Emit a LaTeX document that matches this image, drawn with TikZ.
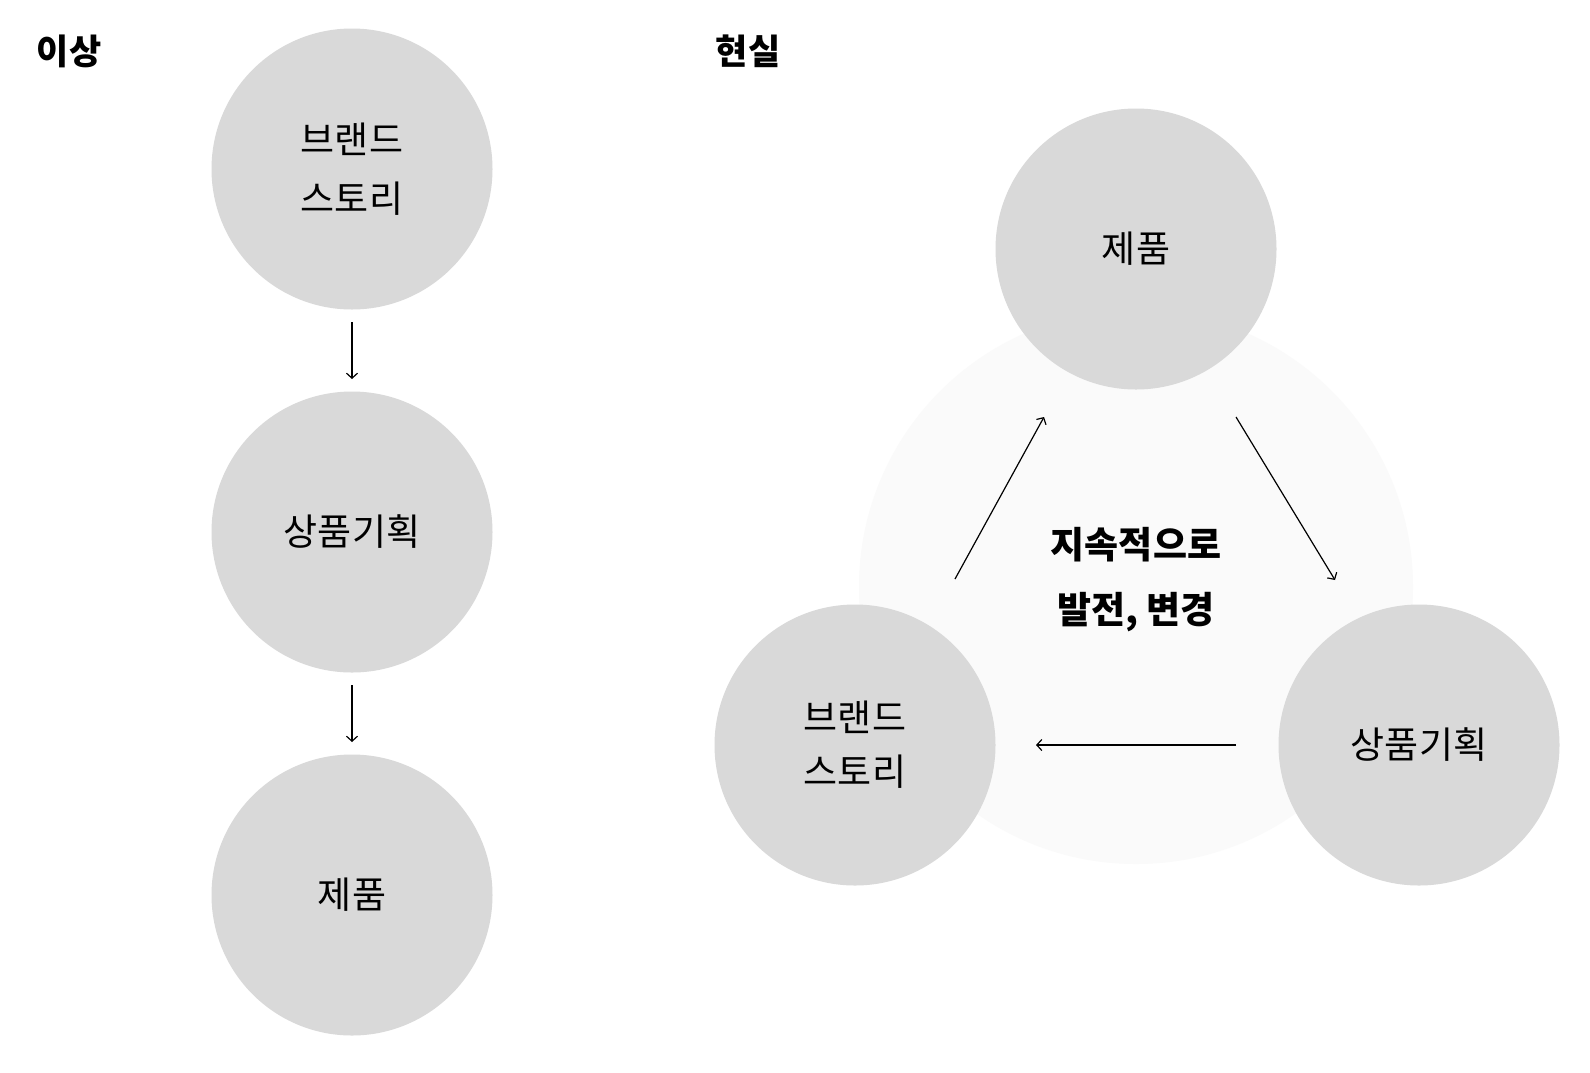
\documentclass[tikz,border=0pt]{standalone}
\usepackage{fontspec}
\setmainfont{Noto Sans CJK KR}
\usetikzlibrary{arrows.meta}
\definecolor{circ}{HTML}{D9D9D9}
\definecolor{faint}{HTML}{FAFAFA}
\tikzset{
  bub/.style={circle, fill=circ, minimum size=281pt, inner sep=0pt, align=center,
    font=\fontsize{37}{59}\selectfont},
  ttl/.style={font=\fontsize{35}{40}\selectfont\bfseries, inner sep=0pt},
  flow/.style={line width=1.2pt, -{Straight Barb[length=5pt,width=11pt]}},
}
\begin{document}
\begin{tikzpicture}[x=1pt,y=-1pt]
\useasboundingbox (0,0) rectangle (1590,1072);
\fill[white] (0,0) rectangle (1590,1072);
% titles
\node[ttl] (t1) at (69,51) {이상};
\node[ttl] (t2) at (748,51) {현실};
% left column
\node[bub] (l1) at (352,169) {브랜드\\스토리};
\node[bub] (l2) at (352,532) {상품기획};
\node[bub] (l3) at (352,895) {제품};
\coordinate (a1s) at (352,322); \coordinate (a1e) at (352,379);
\coordinate (a2s) at (352,685); \coordinate (a2e) at (352,742);
\draw[flow] (a1s) -- (a1e);
\draw[flow] (a2s) -- (a2e);
% right cycle
\fill[faint] (1136,587) circle (277pt);
\node[bub] (r1) at (1136,249) {제품};
\node[bub] (r2) at (1419,745) {상품기획};
\node[bub, font=\fontsize{37}{54}\selectfont] (r3) at (855,745) {브랜드\\스토리};
\node[align=center, font=\fontsize{37}{65}\selectfont\bfseries] (mid) at (1136,580) {지속적으로\\발전, 변경};
\coordinate (b1s) at (955,579); \coordinate (b1e) at (1044,417);
\coordinate (b2s) at (1236,417); \coordinate (b2e) at (1335,580);
\coordinate (b3s) at (1236,745); \coordinate (b3e) at (1036,745);
\draw[flow] (b1s) -- (b1e);
\draw[flow] (b2s) -- (b2e);
\draw[flow] (b3s) -- (b3e);
\end{tikzpicture}
\end{document}
